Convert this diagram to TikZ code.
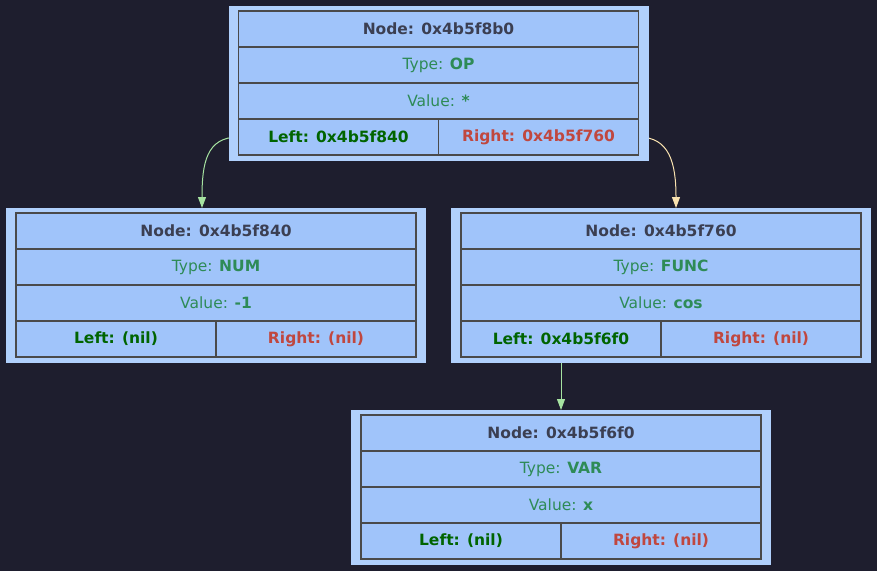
\documentclass[tikz,border=0pt]{standalone}
\usepackage{fontspec}
\setmainfont{DejaVu Sans}
\usetikzlibrary{arrows.meta,positioning,backgrounds}
\definecolor{bg}{HTML}{1E1E2E}
\definecolor{outerfill}{HTML}{B0D0FC}
\definecolor{innerfill}{HTML}{A0C4FA}
\definecolor{cellline}{HTML}{4A4A4A}
\definecolor{hdr}{HTML}{3B3F52}
\definecolor{typec}{HTML}{2E8B57}
\definecolor{leftc}{HTML}{006400}
\definecolor{rightc}{HTML}{C0473F}
\definecolor{edgegreen}{HTML}{A6E3A1}
\definecolor{edgepeach}{HTML}{F9E2AF}
\tikzset{
  outerbox/.style={fill=outerfill, draw=none, inner sep=0pt, outer sep=0pt, minimum width=420, minimum height=155},
  cell/.style={fill=innerfill, draw=cellline, line width=1.2pt, inner sep=0pt, outer sep=0pt,
    minimum width=400, minimum height=36, font=\fontsize{15.5}{18}\selectfont},
  halfcell/.style={cell, minimum width=200},
  edgeline/.style={line width=1pt, -{Triangle[length=11pt,width=8pt]}}
}
\newcommand\treebox[8]{%
  \node[outerbox, anchor=north] (#1) at (#2,#3-5) {};
  \node[cell, anchor=north] (#1-h) at (#2,#3) {\bfseries\color{hdr}Node: #4};
  \node[cell, anchor=north] (#1-t) at (#1-h.south) {\color{typec}Type: \bfseries #5};
  \node[cell, anchor=north] (#1-v) at (#1-t.south) {\color{typec}Value: \bfseries #6};
  \node[halfcell, anchor=north east] (#1-l) at (#1-v.south) {\bfseries\color{leftc}Left: #7};
  \node[halfcell, anchor=north west] (#1-r) at (#1-v.south) {\bfseries\color{rightc}Right: #8};
}
\begin{document}
\begin{tikzpicture}[x=1pt,y=-1pt]
\useasboundingbox (0,0) rectangle (877,571);
\treebox{a}{438.5}{11}{0x4b5f8b0}{OP}{*}{0x4b5f840}{0x4b5f760}
\treebox{b}{216}{213}{0x4b5f840}{NUM}{-1}{(nil)}{(nil)}
\treebox{c}{661}{213}{0x4b5f760}{FUNC}{cos}{0x4b5f6f0}{(nil)}
\treebox{d}{561}{415}{0x4b5f6f0}{VAR}{x}{(nil)}{(nil)}
\begin{pgfonlayer}{background}
\fill[bg] (0,0) rectangle (877,571);
\draw[edgeline, edgegreen] (a-l.west) .. controls ([xshift=-32pt]a-l.west) and ([xshift=-14pt,yshift=45pt]b.north) .. ([xshift=-14pt]b.north);
\draw[edgeline, edgepeach] (a-r.east) .. controls ([xshift=31pt]a-r.east) and ([xshift=15pt,yshift=45pt]c.north) .. ([xshift=15pt]c.north);
\draw[edgeline, edgegreen] (c-l.south) -- (d.north);
\end{pgfonlayer}
\end{tikzpicture}
\end{document}
